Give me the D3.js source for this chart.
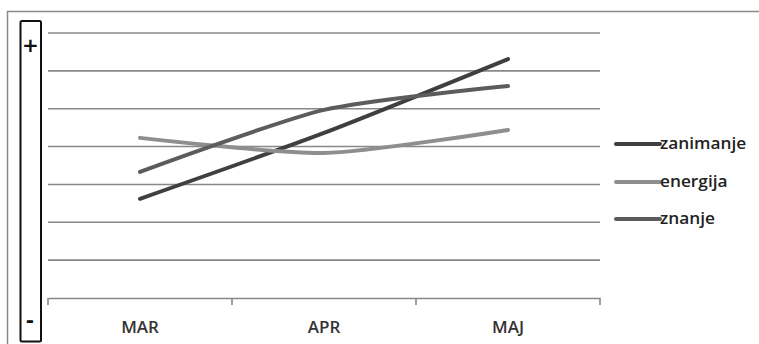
<!DOCTYPE html>
<html><head><meta charset="utf-8">
<script src="https://cdn.jsdelivr.net/npm/d3@7"></script>
<style>html,body{margin:0;padding:0;background:#fff;}svg{display:block;}</style>
</head><body>
<script>
const categories = ["MAR", "APR", "MAJ"];
const seriesNames = ["zanimanje", "energija", "znanje"];
const zanimanje = [2.62, 4.36, 6.31];
const energija = [4.23, 3.83, 4.44];
const znanje = [3.33, 4.97, 5.60];
const gridTicks = [1, 2, 3, 4, 5, 6, 7];
const colors = ["#3f3f3f", "#8e8e8e", "#5c5c5c"];
const seriesValues = [zanimanje, energija, znanje];

const W = 759, H = 344;
const svg = d3.select("body").append("svg").attr("width", W).attr("height", H);

// outer chart border (extends beyond right/bottom)
svg.append("rect").attr("x", 7.5).attr("y", 11.5).attr("width", W + 10).attr("height", H + 10)
  .attr("fill", "none").attr("stroke", "#8a8a8a").attr("stroke-width", 1.5);

// +/- box
svg.append("rect").attr("x", 20.5).attr("y", 21).attr("width", 20.5).attr("height", 320.5)
  .attr("rx", 1.5).attr("fill", "#fff").attr("stroke", "#111").attr("stroke-width", 2);
svg.append("text").attr("x", 30.5).attr("y", 52).attr("text-anchor", "middle")
  .attr("font-family", "DejaVu Sans, sans-serif").attr("font-weight", "bold")
  .attr("font-size", 20).attr("fill", "#111").text("+");
svg.append("text").attr("x", 30).attr("y", 327).attr("text-anchor", "middle")
  .attr("font-family", "DejaVu Sans, sans-serif").attr("font-weight", "bold")
  .attr("font-size", 20).attr("fill", "#111").text("-");

const x = d3.scaleBand().domain(categories).range([48, 600]).padding(0);
const y = d3.scaleLinear().domain([0, 7]).range([298, 33]);

// gridlines
svg.append("g").selectAll("line").data(gridTicks).join("line")
  .attr("x1", 48).attr("x2", 600).attr("y1", d => y(d)).attr("y2", d => y(d))
  .attr("stroke", "#888").attr("stroke-width", 1.6);

// x axis
const xAxis = svg.append("g").attr("transform", `translate(0,${y(0)})`)
  .call(d3.axisBottom(x).tickSize(0).tickPadding(23));
xAxis.select(".domain").attr("stroke", "#888").attr("stroke-width", 1.6);
xAxis.selectAll("text").attr("font-family", "Open Sans, sans-serif").attr("font-weight", 600)
  .attr("font-size", 17).attr("fill", "#333");
// boundary ticks between categories
const bounds = categories.map(c => x(c)).concat([x.range()[1]]);
xAxis.selectAll(".bt").data(bounds).join("line").attr("class", "bt")
  .attr("x1", d => d).attr("x2", d => d).attr("y1", 0).attr("y2", 7)
  .attr("stroke", "#888").attr("stroke-width", 1.6);

// lines
const line = d3.line().x((d, i) => x(categories[i]) + x.bandwidth() / 2).y(d => y(d))
  .curve(d3.curveCardinal.tension(0.3));
svg.append("g").selectAll("path").data(seriesValues).join("path")
  .attr("d", d => line(d)).attr("fill", "none")
  .attr("stroke", (d, i) => colors[i]).attr("stroke-width", 4).attr("stroke-linecap", "round");

// legend
const lg = svg.append("g");
const legY = [144, 182, 219];
seriesNames.forEach((n, i) => {
  lg.append("line").attr("x1", 616).attr("x2", 660).attr("y1", legY[i]).attr("y2", legY[i])
    .attr("stroke", colors[i]).attr("stroke-width", 4).attr("stroke-linecap", "round");
  lg.append("text").attr("x", 660).attr("y", legY[i] + 5)
    .attr("font-family", "Open Sans, sans-serif").attr("font-weight", 600).attr("font-size", 16).attr("fill", "#222")
    .attr("transform", `translate(660,0) scale(1.08,1) translate(-660,0)`)
    .text(n);
});
</script>
</body></html>
